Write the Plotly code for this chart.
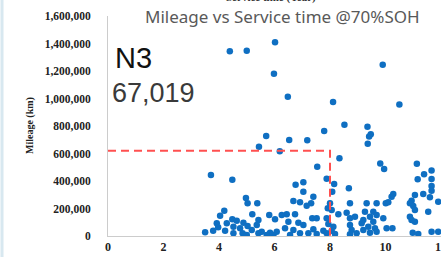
import plotly.graph_objects as go

# ---- data (service time in years, mileage in km) ----
service_time = [
    4.39, 5.00, 6.02, 5.98, 6.48, 5.70, 5.44, 6.19, 6.53, 7.18, 7.54, 3.71, 9.90, 8.11, 10.50,
    8.52, 7.79, 9.35, 9.47, 9.41, 9.36, 8.34, 9.81, 9.95, 11.13, 11.66, 11.39, 4.48, 7.88,
    11.66, 11.16, 11.66, 11.66, 10.28, 10.22, 11.36, 11.06, 11.60, 11.90, 9.32, 9.68, 10.01,
    10.10, 10.94, 10.88, 11.00, 11.06, 11.54, 9.26, 9.56, 9.44, 9.68, 10.88, 10.94, 11.06,
    9.92, 9.20, 9.14, 9.56, 9.38, 9.62, 10.04, 10.25, 9.20, 9.44, 9.68, 10.98, 11.18, 11.66, 11.90,
    8.15, 6.76, 7.04, 7.04, 8.08, 8.68, 7.40, 6.68, 6.92, 7.32, 7.16, 8.00, 8.72, 7.92, 8.06,
    8.30, 8.60, 6.44, 6.26, 6.74, 7.36, 7.52, 7.88, 8.72, 8.90, 6.50, 6.86, 7.04, 7.94, 8.12,
    8.72, 6.38, 6.68, 7.40, 7.76, 8.06, 8.78, 6.92, 7.22, 7.52, 7.88, 8.18, 8.72, 8.96, 6.56,
    4.97, 5.03, 5.38, 4.19, 4.04, 5.20, 5.81, 6.02, 4.48, 4.64, 5.42, 3.92, 4.28, 4.88, 5.03,
    5.36, 4.52, 4.76, 4.22, 3.79, 3.50, 5.18, 5.54, 5.84, 6.08, 3.97, 5.42, 4.52, 4.85, 5.00,
    5.72, 5.96,
]
mileage = [
    1343000, 1348000, 1409000, 1180000, 1013000, 727000, 650000, 616000, 698000, 696000, 504000,
    444000, 1246000, 975000, 956000, 809000, 764000, 795000, 740000, 724000, 671000, 566000,
    527000, 487000, 526000, 476000, 449000, 409000, 417000,
    415000, 412000, 364000, 330000, 305000, 286000, 305000, 298000, 281000, 249000, 238000,
    238000, 238000, 245000, 257000, 238000, 218000, 189000, 177000, 177000, 177000, 140000,
    153000, 140000, 116000, 104000, 129000, 116000, 92000, 104000, 68000, 56000, 56000, 56000,
    44000, 24000, 31000, 24000, 15000, 31000, 31000,
    378000, 373000, 391000, 322000, 322000, 347000, 286000, 255000, 245000, 238000, 220000,
    238000, 238000, 201000, 189000, 158000, 169000, 158000, 153000, 158000, 129000, 129000,
    129000, 129000, 140000, 104000, 97000, 80000, 87000, 68000, 80000, 56000, 44000, 49000,
    39000, 39000, 44000, 20000, 20000, 15000, 20000, 15000, 12000, 20000, 7000,
    276000, 238000, 238000, 184000, 148000, 158000, 153000, 121000, 121000, 111000, 116000,
    92000, 92000, 97000, 73000, 80000, 68000, 56000, 39000, 39000, 27000, 44000, 31000, 24000,
    31000, 63000, 20000, 20000, 20000, 7000, 7000, 7000,
]
threshold_time = 8
threshold_mileage = 620000
x_ticks = [0, 2, 4, 6, 8, 10, 12]
y_ticks = [0, 200000, 400000, 600000, 800000, 1000000, 1200000, 1400000, 1600000]
label_segment = "N3"
label_count = "67,019"
title_text = "Mileage vs Service time @70%SOH"

fig = go.Figure()
fig.add_trace(go.Scatter(
    x=service_time, y=mileage, mode="markers",
    marker=dict(color="#0F6FC2", size=6.5),
    showlegend=False, hoverinfo="skip",
))
# threshold guide lines
fig.add_trace(go.Scatter(
    x=[0, threshold_time, threshold_time], y=[threshold_mileage, threshold_mileage, 0],
    mode="lines", line=dict(color="#FF5050", width=2, dash="8px,5px"),
    showlegend=False, hoverinfo="skip",
))

serif_bold = dict(family="Liberation Serif", size=12, color="#222222", weight="bold")

fig.update_layout(
    width=441, height=257,
    margin=dict(l=108, r=0, t=16, b=21),
    paper_bgcolor="white", plot_bgcolor="white",
    xaxis=dict(range=[0, 12], tickvals=x_ticks, showline=True, linecolor="#cccccc",
               linewidth=1, showgrid=False, zeroline=False, ticks="",
               tickfont=serif_bold, ticklabelstandoff=0, automargin=False,
               ticklabeloverflow="allow"),
    yaxis=dict(range=[0, 1600000], tickvals=y_ticks, tickformat=",", showline=True,
               linecolor="#cccccc", linewidth=1, showgrid=False, zeroline=False, ticks="",
               tickfont=dict(family="Liberation Serif", size=11.5, color="#222222", weight="bold"),
               ticklabelstandoff=14, automargin=False),
    annotations=[
        dict(text=title_text, xref="paper", yref="paper", x=(282 - 108) / 333, y=1.0,
             xanchor="center", yanchor="middle", showarrow=False,
             font=dict(family="Noto Sans", size=17, color="#595959")),
        dict(text="Service time (Year)", xref="paper", yref="paper", x=(271 - 108) / 333,
             y=1.045, xanchor="center", yanchor="bottom", showarrow=False,
             font=dict(family="Liberation Serif", size=11, color="#333333", weight="bold")),
        dict(text="Mileage (km)", xref="paper", yref="paper", x=(30 - 108) / 333, y=0.5,
             xanchor="center", yanchor="middle", textangle=-90, showarrow=False,
             font=dict(family="Liberation Serif", size=10, color="#222222", weight="bold")),
        dict(text=label_segment, xref="paper", yref="paper", x=(113 - 108) / 333,
             y=(236 - 58) / 220, xanchor="left", yanchor="middle", showarrow=False,
             font=dict(family="Liberation Sans", size=29, color="#111111")),
        dict(text=label_count, xref="paper", yref="paper", x=(110 - 108) / 333,
             y=(236 - 93) / 220, xanchor="left", yanchor="middle", showarrow=False,
             font=dict(family="Liberation Sans", size=27, color="#3a3a3a")),
    ],
    shapes=[
        dict(type="line", xref="paper", yref="paper", x0=(2 - 108) / 333, x1=(2 - 108) / 333,
             y0=-21 / 220, y1=1 + 16 / 220, line=dict(color="#d8e8f0", width=3)),
    ],
)

fig.write_html("out.html", config={"displayModeBar": False},
               post_script="document.body.style.margin='0';document.body.style.overflow='hidden';")
